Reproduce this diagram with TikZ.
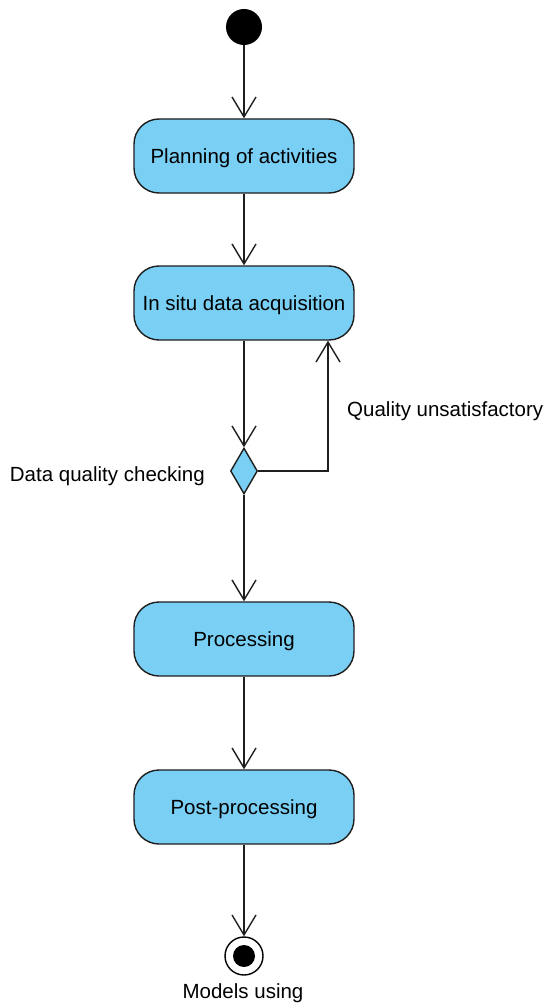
\documentclass[tikz,border=0pt]{standalone}
\usepackage{fontspec}
\setmainfont{Liberation Sans}
\usetikzlibrary{arrows.meta,shapes.geometric}
\definecolor{actblue}{RGB}{122,207,245}
\definecolor{edge}{RGB}{30,30,30}
\begin{document}
\begin{tikzpicture}[x=1pt,y=-1pt,
  act/.style={draw=edge,fill=actblue,line width=1.4pt,rounded corners=25pt,minimum width=220pt,minimum height=74pt,font=\fontsize{20.5}{24}\selectfont,inner sep=0pt,text depth=0pt},
  arr/.style={draw=edge,line width=1.4pt,-{Straight Barb[length=20pt,width=24pt,line width=1.4pt]}},
  lbl/.style={font=\fontsize{20.5}{24}\selectfont,inner sep=0pt}]
\useasboundingbox (0,0) rectangle (544,1003);
\node[circle,fill=black,minimum size=36pt,inner sep=0pt] (start) at (244,27) {};
\node[act] (plan) at (244,156) {Planning of activities};
\node[act] (insitu) at (244,303) {In situ data acquisition};
\node[diamond,draw=edge,fill=actblue,line width=1.4pt,minimum width=27pt,minimum height=46pt,inner sep=0pt] (dec) at (244,471) {};
\node[act] (proc) at (244,639) {Processing};
\node[act] (post) at (244,807) {Post-processing};
\node[circle,draw=black,fill=white,line width=1.4pt,minimum size=38pt,inner sep=0pt] (end) at (244,956) {};
\node[circle,fill=black,minimum size=22pt,inner sep=0pt] (endin) at (244,956) {};
\node[lbl,anchor=north] (endlbl) at (243,983) {Models using};
\node[lbl,anchor=west] (qlbl) at (347,411) {Quality unsatisfactory};
\node[lbl,anchor=east] (dlbl) at (205,476) {Data quality checking};
\coordinate (loopx) at (328,471);
\draw[arr] (start) -- (plan);
\draw[arr] (plan) -- (insitu);
\draw[arr] (insitu) -- (dec.north);
\draw[arr] (dec.east) -- (loopx) -- (loopx |- insitu.south);
\draw[arr] (dec.south) -- (proc);
\draw[arr,line width=1.8pt] (proc) -- (post);
\draw[arr] (post) -- (end);
\end{tikzpicture}
\end{document}
